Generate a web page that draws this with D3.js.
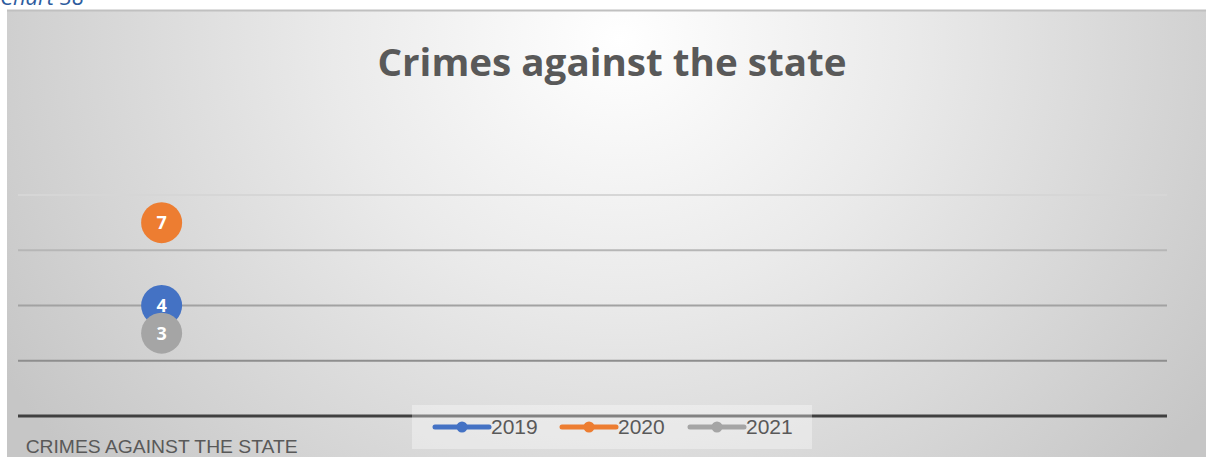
<!DOCTYPE html>
<html>
<head>
<meta charset="utf-8">
<script src="https://cdn.jsdelivr.net/npm/d3@7"></script>
<style>
  html, body { margin: 0; padding: 0; background: #ffffff; }
  svg { display: block; }
</style>
</head>
<body>
<script>
const categories = ["CRIMES AGAINST THE STATE"];
const categorySlots = 4;
const seriesNames = ["2019", "2020", "2021"];
const values2019 = [4];
const values2020 = [7];
const values2021 = [3];
const seriesColors = ["#4472C4", "#ED7D31", "#A5A5A5"];
const yTicks = [0, 2, 4, 6, 8];
const chartTitle = "Crimes against the state";
const captionText = "Chart 38";

const W = 1206, H = 457;
const svg = d3.select("body").append("svg").attr("width", W).attr("height", H);

const defs = svg.append("defs");
const grad = defs.append("radialGradient").attr("id", "bg")
  .attr("gradientUnits", "userSpaceOnUse")
  .attr("cx", 620).attr("cy", 40).attr("r", 720)
  .attr("gradientTransform", "translate(620,40) scale(1,0.9) translate(-620,-40)");
grad.append("stop").attr("offset", 0).attr("stop-color", "#ffffff");
grad.append("stop").attr("offset", 0.4).attr("stop-color", "#eaeaea");
grad.append("stop").attr("offset", 1).attr("stop-color", "#c6c6c6");

// caption (cut off at top, as in the source)
svg.append("text").attr("x", 0).attr("y", 5)
  .attr("font-family", "Open Sans, sans-serif").attr("font-style", "italic")
  .attr("font-size", 22).attr("fill", "#2E5C9E").text(captionText);

// chart area
svg.append("rect").attr("x", 7).attr("y", 10).attr("width", W - 7).attr("height", H - 10)
  .attr("fill", "url(#bg)");
svg.append("line").attr("x1", 7).attr("x2", W).attr("y1", 10.5).attr("y2", 10.5)
  .attr("stroke", "#c0c0c0").attr("stroke-width", 2);

const plot = { left: 18, right: 1167, top: 195, bottom: 416 };
const y = d3.scaleLinear().domain([0, 8]).range([plot.bottom, plot.top]);
const x = d3.scaleBand().domain(d3.range(categorySlots)).range([plot.left, plot.right]);

// gridlines
const gridColors = { 2: "#8e8e8e", 4: "#a2a2a2", 6: "#b6b6b6", 8: "#d6d6d6" };
svg.append("g").selectAll("line").data(yTicks.filter(t => t > 0)).join("line")
  .attr("x1", plot.left).attr("x2", plot.right)
  .attr("y1", d => y(d)).attr("y2", d => y(d))
  .attr("stroke", d => gridColors[d]).attr("stroke-width", 2);

// axis line
svg.append("line").attr("x1", plot.left).attr("x2", plot.right)
  .attr("y1", y(0)).attr("y2", y(0)).attr("stroke", "#404040").attr("stroke-width", 3);

// category labels
svg.append("g").selectAll("text").data(categories).join("text")
  .attr("x", (d, i) => x(i) + x.bandwidth() / 2).attr("y", 453)
  .attr("text-anchor", "middle")
  .attr("font-family", "Liberation Sans Narrow, Liberation Sans, sans-serif")
  .attr("font-size", 19).attr("fill", "#595959")
  .attr("textLength", 272).attr("lengthAdjust", "spacingAndGlyphs")
  .text(d => d);

// title
svg.append("text").attr("x", 612).attr("y", 76).attr("text-anchor", "middle")
  .attr("font-family", "Open Sans, sans-serif").attr("font-weight", "bold")
  .attr("font-size", 38).attr("fill", "#595959")
  .attr("textLength", 469).attr("lengthAdjust", "spacingAndGlyphs")
  .text(chartTitle);

// series markers
const seriesValues = [values2019, values2020, values2021];
seriesValues.forEach((vals, si) => {
  const g = svg.append("g");
  vals.forEach((v, i) => {
    const cx = x(i) + x.bandwidth() / 2, cy = y(v);
    g.append("circle").attr("cx", cx).attr("cy", cy).attr("r", 20.5)
      .attr("fill", seriesColors[si]);
    g.append("text").attr("x", cx).attr("y", cy + 6.5).attr("text-anchor", "middle")
      .attr("font-family", "Open Sans, sans-serif").attr("font-weight", "bold")
      .attr("font-size", 18).attr("fill", "#ffffff").text(v);
  });
});

// legend
const lg = svg.append("g");
lg.append("rect").attr("x", 412).attr("y", 405).attr("width", 400).attr("height", 44)
  .attr("fill", "#ffffff").attr("fill-opacity", 0.35);
const legendX = [435, 562, 690];
seriesNames.forEach((n, i) => {
  const lx = legendX[i], ly = 427;
  lg.append("line").attr("x1", lx).attr("x2", lx + 54).attr("y1", ly).attr("y2", ly)
    .attr("stroke", seriesColors[i]).attr("stroke-width", 5).attr("stroke-linecap", "round");
  lg.append("circle").attr("cx", lx + 27).attr("cy", ly).attr("r", 5.5).attr("fill", seriesColors[i]);
  lg.append("text").attr("x", lx + 56).attr("y", ly + 7)
    .attr("font-family", "Liberation Sans Narrow, Liberation Sans, sans-serif")
    .attr("font-size", 21).attr("fill", "#595959").text(n);
});
</script>
</body>
</html>
